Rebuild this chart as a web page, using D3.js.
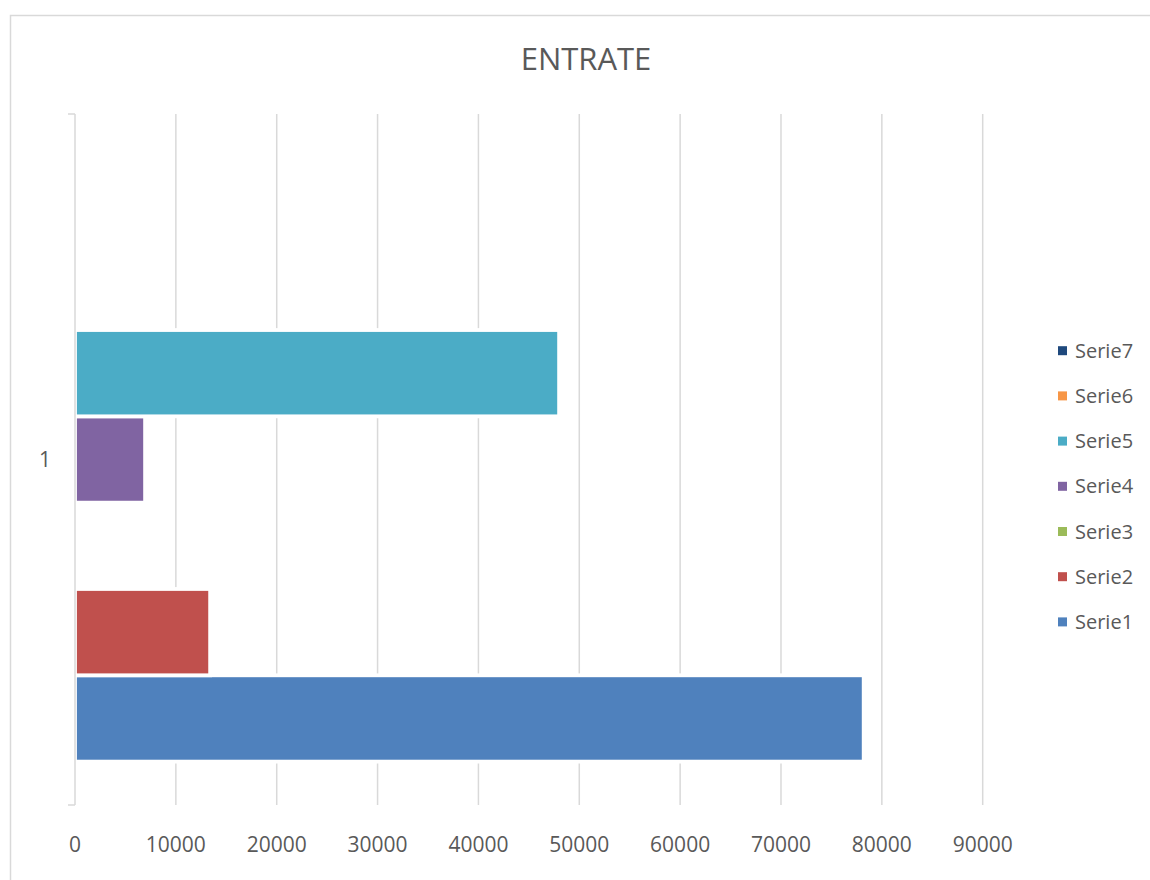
<!DOCTYPE html>
<html>
<head>
<meta charset="utf-8">
<script src="https://cdn.jsdelivr.net/npm/d3@7"></script>
<style>
  body { margin: 0; background: #fff; }
  svg text { font-family: "Open Sans", "DejaVu Sans", sans-serif; fill: #595959; }
</style>
</head>
<body>
<main></main>
<script>
// chart data
const categories = ['1'];
const seriesNames = ['Serie1', 'Serie2', 'Serie3', 'Serie4', 'Serie5', 'Serie6', 'Serie7'];
const seriesValues = [78200, 13400, 0, 6950, 48000, 0, 0];
const seriesColors = ['#4F81BD', '#C0504D', '#9BBB59', '#8064A2', '#4BACC6', '#F79646', '#1F497D'];
const xTicks = [0, 10000, 20000, 30000, 40000, 50000, 60000, 70000, 80000, 90000];

const sizeOfSVG = {
    width: 1150,
    height: 880
};

// plot area
const plot = { left: 75, right: 982.7, top: 114, bottom: 805 };

const svg = d3.select('main')
                .append('svg')
                .attr('width', sizeOfSVG.width)
                .attr('height', sizeOfSVG.height);

// chart border
svg.append('rect')
    .attr('x', 10.5)
    .attr('y', 15.5)
    .attr('width', sizeOfSVG.width)
    .attr('height', sizeOfSVG.height)
    .attr('fill', 'none')
    .attr('stroke', '#d9d9d9')
    .attr('stroke-width', 1.5);

// title
svg.append('text')
    .attr('x', 586)
    .attr('y', 70)
    .attr('text-anchor', 'middle')
    .style('font-size', '31px')
    .text('ENTRATE');

const xScale = d3.scaleLinear()
                    .domain([0, 90000])
                    .range([plot.left, plot.right]);

const yScale = d3.scaleBand()
                    .domain(categories)
                    .range([plot.top, plot.bottom])
                    .paddingInner(0)
                    .paddingOuter(0.0718);

// Serie1 sits at the bottom like excel does
const seriesScale = d3.scaleBand()
                        .domain(seriesNames.slice().reverse())
                        .range([yScale(categories[0]), yScale(categories[0]) + yScale.bandwidth()])
                        .padding(0);

const colors = d3.scaleOrdinal()
                    .domain(seriesNames)
                    .range(seriesColors);

// gridlines
svg.append('g')
    .selectAll('line')
    .data(xTicks.slice(1))
    .enter()
    .append('line')
    .attr('x1', d => xScale(d))
    .attr('x2', d => xScale(d))
    .attr('y1', plot.top)
    .attr('y2', plot.bottom)
    .attr('stroke', '#d9d9d9')
    .attr('stroke-width', 1.5);

// bars
const barData = seriesNames.map((name, i) => ({ name: name, value: seriesValues[i] }));

svg.append('g')
    .selectAll('rect')
    .data(barData.filter(d => d.value > 0))
    .enter()
    .append('rect')
    .attr('x', xScale(0))
    .attr('y', d => seriesScale(d.name))
    .attr('width', d => xScale(d.value) - xScale(0))
    .attr('height', seriesScale.bandwidth())
    .attr('fill', d => colors(d.name))
    .attr('stroke', '#fff')
    .attr('stroke-width', 3.8);

// y axis line with the outside ticks
const yAxis = svg.append('g');
yAxis.append('line')
    .attr('x1', plot.left)
    .attr('x2', plot.left)
    .attr('y1', plot.top)
    .attr('y2', plot.bottom)
    .attr('stroke', '#d9d9d9')
    .attr('stroke-width', 1.5);
yAxis.selectAll('.tick')
    .data([plot.top, plot.bottom])
    .enter()
    .append('line')
    .attr('x1', plot.left - 7)
    .attr('x2', plot.left)
    .attr('y1', d => d)
    .attr('y2', d => d)
    .attr('stroke', '#d9d9d9')
    .attr('stroke-width', 1.5);

yAxis.selectAll('text')
    .data(categories)
    .enter()
    .append('text')
    .attr('x', 45)
    .attr('y', d => yScale(d) + yScale.bandwidth() / 2)
    .attr('dy', '0.35em')
    .attr('text-anchor', 'middle')
    .style('font-size', '21px')
    .text(d => d);

// x tick labels
svg.append('g')
    .selectAll('text')
    .data(xTicks)
    .enter()
    .append('text')
    .attr('x', d => xScale(d))
    .attr('y', 845)
    .attr('dy', '0.35em')
    .attr('text-anchor', 'middle')
    .style('font-size', '21px')
    .text(d => d);

// legend, Serie7 on top
const legend = svg.append('g')
                    .attr('id', 'legend')
                    .selectAll('g')
                    .data(seriesNames.slice().reverse())
                    .enter()
                    .append('g')
                    .attr('transform', (d, i) => 'translate(1058,' + (350.7 + i * 45.2) + ')');

legend.append('rect')
    .attr('x', 0)
    .attr('y', -4.5)
    .attr('width', 9)
    .attr('height', 9)
    .attr('fill', d => colors(d));

legend.append('text')
    .attr('x', 17)
    .attr('y', 0)
    .attr('dy', '0.35em')
    .style('font-size', '20px')
    .text(d => d);
</script>
</body>
</html>
